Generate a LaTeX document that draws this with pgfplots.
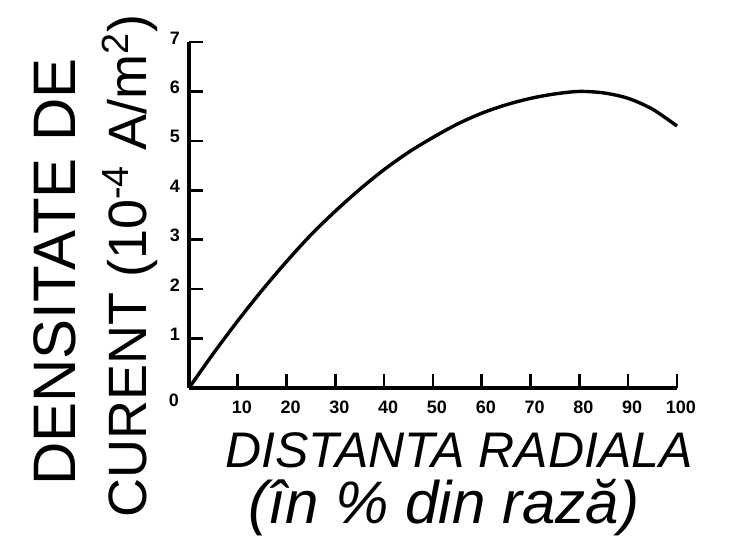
\documentclass[border=0pt]{standalone}
\usepackage{fontspec}
\setmainfont{Liberation Sans}
\usepackage{pgfplots}
\pgfplotsset{compat=1.18}

% densitatea de curent
\pgfplotstableread{
x y
0 0
5 0.70
10 1.36
15 1.98
20 2.56
25 3.10
30 3.58
35 4.02
40 4.42
45 4.77
50 5.07
55 5.34
60 5.56
65 5.73
70 5.86
75 5.95
80 6.00
85 5.97
90 5.86
95 5.64
100 5.30
}\densitate

\begin{document}
\begin{tikzpicture}
\useasboundingbox (0,0) rectangle (376pt,271pt);
\begin{axis}[
    at={(94.5pt,77pt)}, anchor=origin,
    scale only axis,
    width=244pt, height=173pt,
    xmin=0, xmax=100, ymin=0, ymax=7,
    axis lines=left,
    axis line style={-, line width=1.6pt},
    xtick={10,20,...,100}, ytick={1,...,7},
    tick align=inside,
    major tick length=7pt,
    tick style={line width=1.3pt, black},
    /pgf/number format/assume math mode=true,
    ticklabel style={font=\fontsize{9}{9}\selectfont\bfseries},
    xticklabel style={yshift=-3pt, xshift=2pt},
    yticklabel style={xshift=-1pt, yshift=2pt},
    clip=false,
]
\addplot[black, line width=1.7pt, smooth] table {\densitate};
\node[font=\fontsize{9}{9}\selectfont\bfseries] at (axis cs:0,0) [xshift=-7.5pt, yshift=-6pt] {0};
\end{axis}
\node[font=\fontsize{25}{25}\selectfont\itshape] at (229.5pt,46pt) {DISTANTA RADIALA};
\node[font=\fontsize{30}{30}\selectfont\itshape] at (222pt,17pt) {(în \% din rază)};
\node[rotate=90, font=\fontsize{30}{30}\selectfont] at (27.5pt,135pt) {DENSITATE DE};
\node[rotate=90, font=\fontsize{27}{27}\selectfont] at (65pt,138pt) {CURENT (10\textsuperscript{-4} A/m\textsuperscript{2})};
\end{tikzpicture}
\end{document}
